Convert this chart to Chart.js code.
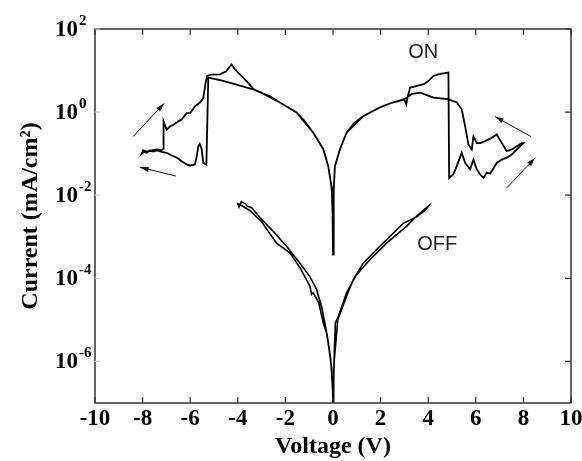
<!DOCTYPE html>
<html>
<head>
<meta charset="utf-8">
<script src="https://cdn.jsdelivr.net/npm/chart.js@4.4.0/dist/chart.umd.min.js"></script>
<style>
  html, body { margin: 0; padding: 0; background: #fff; }
</style>
</head>
<body>
<canvas id="myChart" width="582" height="461"></canvas>
<script>
// tick marks
const xTicks = [-10, -8, -6, -4, -2, 0, 2, 4, 6, 8, 10];
const yExponents = [2, 0, -2, -4, -6];

// ON state sweep (V, mA/cm2)
const onV = [0, -0.02, -0.05, -0.1, -0.2, -0.41, -0.83, -1.2, -1.53, -2.23, -2.65, -3.35, -4.05, -4.7, -5.24,
  -5.32, -5.45, -5.52, -5.6, -5.66, -5.72, -5.8, -6.0, -6.15, -6.36, -6.55, -6.71, -6.99, -7.2, -7.4, -7.55, -7.7, -7.83, -7.95, -8.04,
  -7.98, -7.8, -7.6, -7.4, -7.2, -7.13, -7.12, -6.99, -6.85, -6.7, -6.5, -6.36, -6.25, -6.15, -6.0, -5.8, -5.59, -5.45, -5.34, -5.28,
  -5.1, -4.75, -4.5, -4.26, -4.1, -4.0, -3.77, -3.55, -3.35, -3.0, -2.23, -1.53, -0.83, -0.41, -0.2, -0.1, -0.03, 0,
  0.03, 0.08, 0.29, 0.57, 0.9, 1.27, 1.97, 2.5, 3.0, 3.08, 3.12, 3.24, 3.5, 3.8, 4.0, 4.22, 4.5, 4.85,
  4.88, 5.06, 5.2, 5.41, 5.55, 5.76, 5.9, 6.04, 6.18, 6.32, 6.46, 6.6, 6.75, 6.88, 7.09, 7.3, 7.51, 7.72, 7.93, 8.0,
  7.93, 7.72, 7.51, 7.3, 7.09, 6.88, 6.67, 6.39, 6.2, 6.04, 5.9, 5.83, 5.69, 5.55, 5.41, 5.2, 4.85, 4.22, 3.66, 3.3,
  3.0, 2.5, 1.97, 1.27, 0.57, 0.29, 0.08, 0.03, 0];
const onI = [0.00037, 0.004, 0.013, 0.022, 0.05, 0.13, 0.32, 0.62, 0.98, 1.7, 2.4, 3.5, 4.6, 5.8, 6.8,
  0.055, 0.06, 0.13, 0.17, 0.15, 0.09, 0.055, 0.052, 0.055, 0.066, 0.08, 0.087, 0.105, 0.11, 0.12, 0.113, 0.12, 0.105, 0.11, 0.1,
  0.12, 0.112, 0.12, 0.126, 0.12, 0.13, 0.6, 0.38, 0.45, 0.5, 0.6, 0.66, 0.8, 0.95, 0.95, 1.38, 1.7, 2.2, 5.6, 7.5,
  8.0, 8.1, 9.5, 14, 10.5, 9.0, 6.8, 5.0, 3.6, 2.9, 1.7, 0.98, 0.32, 0.13, 0.05, 0.022, 0.013, 0.00037,
  0.013, 0.05, 0.126, 0.32, 0.55, 0.8, 1.3, 1.7, 2.0, 1.55, 2.1, 3.9, 4.2, 4.7, 5.5, 7.4, 8.3, 8.9,
  0.026, 0.032, 0.05, 0.105, 0.06, 0.042, 0.072, 0.042, 0.032, 0.026, 0.035, 0.033, 0.045, 0.06, 0.072, 0.08, 0.095, 0.126, 0.166, 0.18,
  0.18, 0.15, 0.126, 0.115, 0.18, 0.29, 0.24, 0.2, 0.18, 0.18, 0.26, 0.126, 0.166, 0.46, 1.17, 1.7, 2.04, 2.24, 2.95, 2.7,
  2.05, 1.7, 1.3, 0.8, 0.32, 0.126, 0.05, 0.013, 0.0012];

// OFF state sweep (V, mA/cm2)
const offV = [0, -0.03, -0.1, -0.25, -0.41, -0.6, -0.83, -0.9, -0.97, -1.39, -1.81, -2.37, -3.0, -3.5, -3.8, -4.0,
  -3.95, -3.85, -3.7, -3.6, -3.42, -3.07, -2.51, -1.95, -1.39, -0.97, -0.69, -0.48, -0.29, -0.16, -0.05, 0,
  0.03, 0.06, 0.1, 0.22, 0.57, 0.99, 1.55, 2.25, 3.1, 3.5, 3.85, 4.0,
  3.9, 3.5, 2.95, 1.97, 1.27, 0.85, 0.57, 0.2, 0.05, 0];
const offI = [1e-7, 3e-7, 1.2e-6, 4.5e-6, 8.5e-6, 2.6e-5, 4.5e-5, 4.1e-5, 6.5e-5, 1.8e-4, 4.1e-4, 7.0e-4, 2.3e-3, 4.3e-3, 5.5e-3, 6.2e-3,
  5.2e-3, 7.0e-3, 6.3e-3, 5.5e-3, 5.0e-3, 2.9e-3, 1.35e-3, 5.9e-4, 2.3e-4, 1.1e-4, 5.4e-5, 2.1e-5, 5.8e-6, 1.9e-6, 6.3e-7, 1e-7,
  5e-7, 2e-6, 8.5e-6, 1.2e-5, 4.5e-5, 1.23e-4, 2.8e-4, 7.0e-4, 1.8e-3, 3.1e-3, 4.6e-3, 5.4e-3,
  4.5e-3, 3.0e-3, 2.1e-3, 5.9e-4, 2.3e-4, 9.3e-5, 3.7e-5, 1.0e-5, 1.0e-6, 1e-7];

// sweep direction arrows: [V tail, I tail, V head, I head]
const arrows = [
  [-8.39, 0.26, -7.10, 1.62],
  [-6.60, 0.029, -8.11, 0.047],
  [8.31, 0.26, 6.81, 0.78],
  [7.30, 0.015, 8.49, 0.079]
];
// state labels: [text, V, I]
const notes = [["ON", 3.79, 27], ["OFF", 4.38, 0.00065]];

function toPoints(xs, ys) {
  return xs.map((v, i) => ({ x: v, y: ys[i] }));
}

const serif = '"Liberation Serif", "Times New Roman", serif';

const frame = {
  id: "frame",
  afterDatasetsDraw(chart) {
    const { ctx, chartArea: a, scales: { x, y } } = chart;
    ctx.save();
    ctx.strokeStyle = "#333";
    ctx.lineWidth = 1.5;
    ctx.strokeRect(a.left, a.top, a.right - a.left, a.bottom - a.top);

    ctx.lineWidth = 1.2;
    ctx.beginPath();
    xTicks.forEach((v) => {
      const px = x.getPixelForValue(v);
      ctx.moveTo(px, a.bottom); ctx.lineTo(px, a.bottom - 6);
      ctx.moveTo(px, a.top); ctx.lineTo(px, a.top + 6);
    });
    yExponents.forEach((e) => {
      const py = y.getPixelForValue(Math.pow(10, e));
      ctx.moveTo(a.right, py); ctx.lineTo(a.right - 6, py);
    });
    ctx.stroke();
    ctx.strokeStyle = "#ccc";
    ctx.beginPath();
    yExponents.forEach((e) => {
      const py = y.getPixelForValue(Math.pow(10, e));
      ctx.moveTo(a.left, py); ctx.lineTo(a.left + 5, py);
    });
    ctx.stroke();

    // y tick labels 10^n
    ctx.fillStyle = "#000";
    ctx.textBaseline = "middle";
    yExponents.forEach((e) => {
      const py = y.getPixelForValue(Math.pow(10, e));
      ctx.font = "bold 23px " + serif;
      ctx.textAlign = "right";
      ctx.fillText("10", 78, py + 1);
      ctx.font = "bold 15px " + serif;
      ctx.textAlign = "left";
      ctx.fillText(String(e), 79, py - 8);
    });

    // arrows
    ctx.strokeStyle = "#111";
    ctx.fillStyle = "#111";
    ctx.lineWidth = 1;
    arrows.forEach(([v1, i1, v2, i2]) => {
      const x1 = x.getPixelForValue(v1), y1 = y.getPixelForValue(i1);
      const x2 = x.getPixelForValue(v2), y2 = y.getPixelForValue(i2);
      const ang = Math.atan2(y2 - y1, x2 - x1);
      ctx.beginPath();
      ctx.moveTo(x1, y1); ctx.lineTo(x2, y2);
      ctx.stroke();
      ctx.beginPath();
      ctx.moveTo(x2, y2);
      ctx.lineTo(x2 - 9 * Math.cos(ang - 0.3), y2 - 9 * Math.sin(ang - 0.3));
      ctx.lineTo(x2 - 9 * Math.cos(ang + 0.3), y2 - 9 * Math.sin(ang + 0.3));
      ctx.closePath();
      ctx.fill();
    });

    // ON / OFF labels
    ctx.fillStyle = "#222";
    ctx.font = '20px "Liberation Sans", Arial, sans-serif';
    ctx.textAlign = "center";
    notes.forEach(([t, v, i]) => {
      ctx.fillText(t, x.getPixelForValue(v), y.getPixelForValue(i));
    });
    ctx.restore();
  }
};

const ctx = document.getElementById("myChart").getContext("2d");
const chart = new Chart(ctx, {
  type: "scatter",
  data: {
    datasets: [
      {
        label: "ON",
        data: toPoints(onV, onI),
        showLine: true,
        borderColor: "#000",
        borderWidth: 1.8,
        pointRadius: 0,
        tension: 0
      },
      {
        label: "OFF",
        data: toPoints(offV, offI),
        showLine: true,
        borderColor: "#000",
        borderWidth: 1.6,
        pointRadius: 0,
        tension: 0
      }
    ]
  },
  options: {
    responsive: false,
    animation: false,
    devicePixelRatio: 1,
    layout: { padding: { top: 29, right: 11, left: 0, bottom: 0 } },
    plugins: { legend: { display: false }, tooltip: { enabled: false } },
    scales: {
      x: {
        type: "linear",
        min: -10,
        max: 10,
        afterBuildTicks: (s) => { s.ticks = xTicks.map((v) => ({ value: v })); },
        afterFit: (s) => { s.height = 58; s.paddingLeft = 0; s.paddingRight = 0; },
        grid: { display: false, drawTicks: false },
        border: { display: false },
        ticks: {
          color: "#000",
          padding: 2,
          maxRotation: 0,
          autoSkip: false,
          font: { family: serif, size: 23, weight: "bold" }
        },
        title: {
          display: true,
          text: "Voltage (V)",
          color: "#000",
          padding: { top: 0, bottom: 0 },
          font: { family: serif, size: 24, weight: "bold" }
        }
      },
      y: {
        type: "logarithmic",
        min: 1e-7,
        max: 100,
        afterFit: (s) => { s.width = 95; s.paddingTop = 0; s.paddingBottom = 0; },
        grid: { display: false, drawTicks: false },
        border: { display: false },
        ticks: { display: false },
        title: {
          display: true,
          text: "Current (mA/cm²)",
          color: "#000",
          padding: { top: 16, bottom: 0 },
          font: { family: serif, size: 24, weight: "bold" }
        }
      }
    }
  },
  plugins: [frame]
});
</script>
</body>
</html>
